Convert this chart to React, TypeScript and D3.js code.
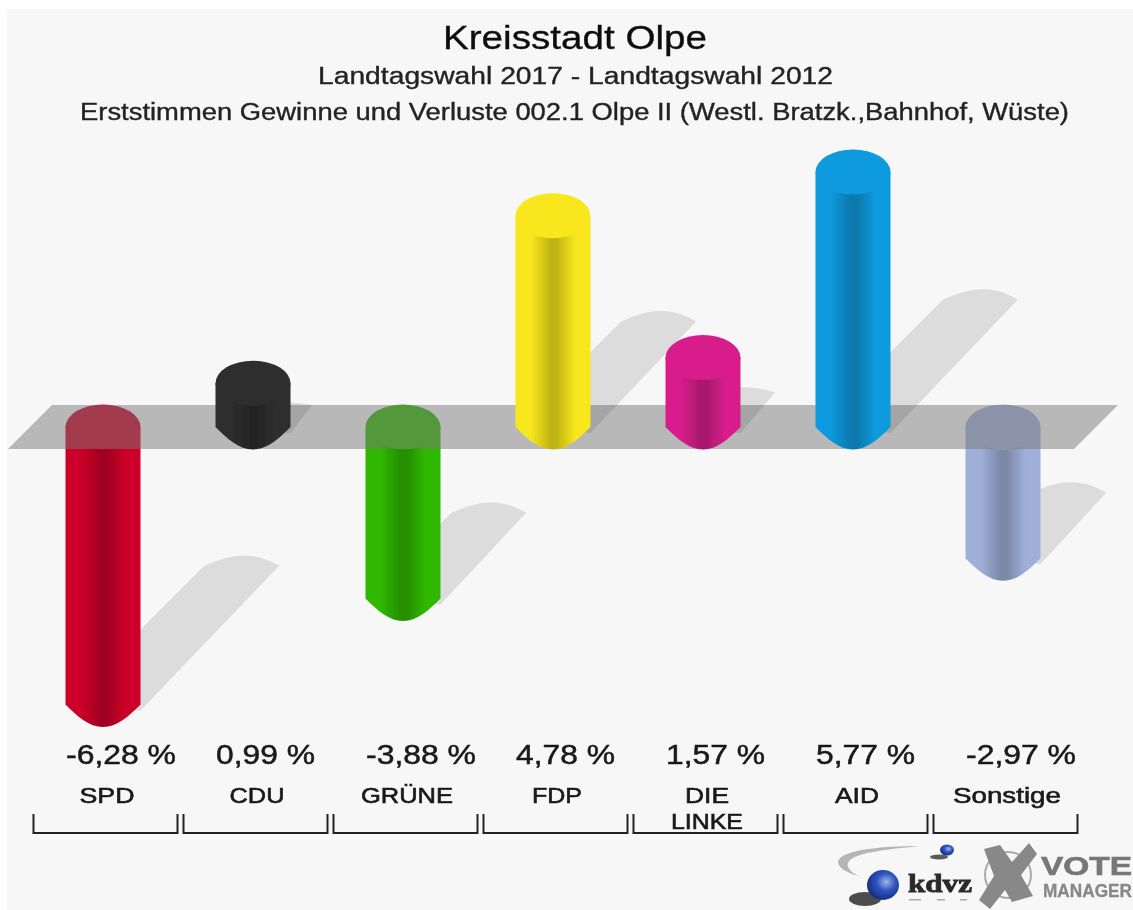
import React from "react";
import { scaleBand, scaleLinear, path as d3path, color as d3color } from "d3";

const parties = ["SPD", "CDU", "GRÜNE", "FDP", "DIE LINKE", "AID", "Sonstige"];
const values = [-6.28, 0.99, -3.88, 4.78, 1.57, 5.77, -2.97];
const valueLabels = ["-6,28 %", "0,99 %", "-3,88 %", "4,78 %", "1,57 %", "5,77 %", "-2,97 %"];
const barColors = ["#cc0029", "#2e2e2e", "#2fb800", "#f8e71c", "#d81f8c", "#0a9ade", "#9fafd8"];
const valueWidths = [110, 99, 110, 99, 99, 99, 110];
const labelWidths = [55, 55, 92, 50, 44, 44, 108];

const font = "'Liberation Sans', Arial, sans-serif";
const W = 1133;
const H = 910;
const RX = 37.5;
const RY = 22.5;

const x = scaleBand<string>().domain(parties).range([28, 1078]);
const y = scaleLinear().domain([0, 5.77]).range([427, 172]);

const slant = 0.5; // shadow reach per px of bar length

// stretched text: the source picture is wider than it is tall
function Txt({ x, y, size, width, anchor = "start", fill = "#1a1a1a", weight = 400, family = font, bold = 0.35, children }: any) {
  return (
    <text
      x={x}
      y={y}
      fontSize={size}
      fontFamily={family}
      fontWeight={weight}
      fill={fill}
      stroke={fill}
      strokeWidth={bold}
      textAnchor={anchor}
      textLength={width}
      lengthAdjust="spacingAndGlyphs"
    >
      {children}
    </text>
  );
}

function shadowPath(cx: number, baseY: number, len: number) {
  const d = len * slant;
  const tipY = baseY - d;
  const mid = cx + d;
  const p = d3path();
  p.moveTo(cx - RX, baseY);
  p.lineTo(mid - RX, tipY);
  const f = Math.min(1, len / 130);
  p.bezierCurveTo(mid - RX + 24 * f, tipY - 10 * f, mid + RX - 30, tipY - 17 * f, mid + RX, tipY);
  p.lineTo(cx + RX, baseY + 6);
  p.closePath();
  return p.toString();
}

function bodyPath(cx: number, topY: number, botY: number) {
  const p = d3path();
  p.moveTo(cx - RX, topY);
  p.lineTo(cx - RX, botY);
  p.bezierCurveTo(cx - RX + 12, botY + 12, cx - 14, botY + RY, cx, botY + RY);
  p.bezierCurveTo(cx + 14, botY + RY, cx + RX - 12, botY + 12, cx + RX, botY);
  p.lineTo(cx + RX, topY);
  p.closePath();
  return p.toString();
}

function Bar({ i }: { i: number }) {
  const cx = x(parties[i])! + x.bandwidth() / 2;
  const v = values[i];
  const topY = v > 0 ? y(v) : y(0);
  const botY = v > 0 ? y(0) : y(v);
  return (
    <g>
      <path d={bodyPath(cx, topY, botY)} fill={`url(#body${i})`} />
      <ellipse cx={cx} cy={topY} rx={RX} ry={RY} fill={barColors[i]} />
    </g>
  );
}

function Shadow({ i }: { i: number }) {
  const cx = x(parties[i])! + x.bandwidth() / 2;
  const v = values[i];
  const len = Math.abs(y(v) - y(0));
  const baseY = v > 0 ? y(0) : y(v);
  return <path d={shadowPath(cx, baseY, len)} fill="#000" fillOpacity={0.105} />;
}

function Logo() {
  return (
    <g>
      <path d="M920,846 C880,846 840,850 838,862 C838,868 848,873 858,876 C848,870 845,865 850,860 C860,852 890,849 920,846Z" fill="#b5b5b5" />
      <ellipse cx={939} cy={857} rx={9} ry={2.5} fill="#333" opacity={0.8} />
      <ellipse cx={947} cy={850} rx={7} ry={5.5} fill="url(#sphere)" />
      <ellipse cx={865} cy={899} rx={16} ry={7} fill="#222" opacity={0.8} />
      <ellipse cx={883} cy={885} rx={16} ry={15} fill="url(#sphere)" />
      <Txt x={908} y={892} size={25} width={64} weight={700} family="'Liberation Serif', serif" fill="#2a2a2a" bold={0.8}>kdvz</Txt>
      <g fill="#aaa">
        <rect x={909} y={899} width={12} height={1.5} />
        <rect x={937} y={899} width={8} height={1.5} />
        <rect x={960} y={899} width={7} height={1.5} />
      </g>
      <circle cx={1008} cy={875} r={23} fill="none" stroke="#aaa" strokeWidth={2} />
      <path d="M984,849 L1000,845 L1012,862 L1029,843 L1037,854 L1021,875 L1033,896 L1012,902 L1005,890 L990,909 L979,900 L994,876Z" fill="#888" />
      <Txt x={1041} y={875} size={25} width={91} weight={700} fill="#777" bold={0.6}>VOTE</Txt>
      <Txt x={1043} y={897} size={17.5} width={89} weight={700} fill="#888" bold={0.3}>MANAGER</Txt>
    </g>
  );
}

export default function App() {
  const bandW = x.bandwidth();
  return (
    <svg width={W} height={H} style={{ position: "absolute", left: 0, top: 0 }}>
      <defs>
        {barColors.map((c, i) => {
          const dark = d3color(c)!.darker(0.7).formatHex();
          return (
            <linearGradient key={i} id={`body${i}`} x1="0" x2="1" y1="0" y2="0">
              <stop offset="0" stopColor={c} />
              <stop offset="0.2" stopColor={c} />
              <stop offset="0.47" stopColor={dark} />
              <stop offset="0.55" stopColor={dark} />
              <stop offset="0.8" stopColor={c} />
              <stop offset="1" stopColor={c} />
            </linearGradient>
          );
        })}
        <radialGradient id="sphere" cx="0.6" cy="0.4" r="0.65">
          <stop offset="0" stopColor="#9fb6e8" />
          <stop offset="0.45" stopColor="#2f55c0" />
          <stop offset="1" stopColor="#122a80" />
        </radialGradient>
        {/* the reference is a soft upscaled raster */}
        <filter id="soft" x="0" y="0" width="100%" height="100%">
          <feGaussianBlur stdDeviation="0.55" />
        </filter>
      </defs>

      <rect x={7} y={9} width={W - 7} height={H - 9} fill="#f7f7f7" />

      <g filter="url(#soft)">
        <Txt x={443} y={49} size={33} width={264} fill="#111">Kreisstadt Olpe</Txt>
        <Txt x={318} y={84} size={23} width={515} fill="#222">Landtagswahl 2017 - Landtagswahl 2012</Txt>
        <Txt x={80} y={120} size={23} width={989} fill="#222">Erststimmen Gewinne und Verluste 002.1 Olpe II (Westl. Bratzk.,Bahnhof, Wüste)</Txt>

        {/* below-plane bars sit under the translucent plane */}
        {values.map((v, i) => (v < 0 ? <Shadow key={i} i={i} /> : null))}
        {values.map((v, i) => (v < 0 ? <Bar key={i} i={i} /> : null))}

        <path d="M52,405 L1118,405 L1074,449 L8,449Z" fill="#777" fillOpacity={0.49} />

        {values.map((v, i) => (v > 0 ? <Shadow key={i} i={i} /> : null))}
        {values.map((v, i) => (v > 0 ? <Bar key={i} i={i} /> : null))}

        {parties.map((name, i) => {
          const left = x(name)!;
          const cx = left + bandW / 2;
          const words = name === "DIE LINKE" ? ["DIE", "LINKE"] : [name];
          return (
            <g key={name}>
              <Txt x={cx - RX + 0.5} y={764} size={27} width={valueWidths[i]} bold={0.5}>{valueLabels[i]}</Txt>
              {words.length === 1 ? (
                <Txt x={cx + 4} y={803} size={22} width={labelWidths[i]} anchor="middle" bold={0.6}>{name}</Txt>
              ) : (
                <>
                  <Txt x={cx + 4} y={803} size={22} width={labelWidths[i]} anchor="middle" bold={0.6}>{words[0]}</Txt>
                  <Txt x={cx + 4} y={829} size={22} width={72} anchor="middle" bold={0.6}>{words[1]}</Txt>
                </>
              )}
              <path
                d={`M${left + 5.5},814 V833 H${left + bandW - 0.5} V814`}
                fill="none"
                stroke="#222"
                strokeWidth={2}
              />
            </g>
          );
        })}

        <Logo />
      </g>
    </svg>
  );
}
